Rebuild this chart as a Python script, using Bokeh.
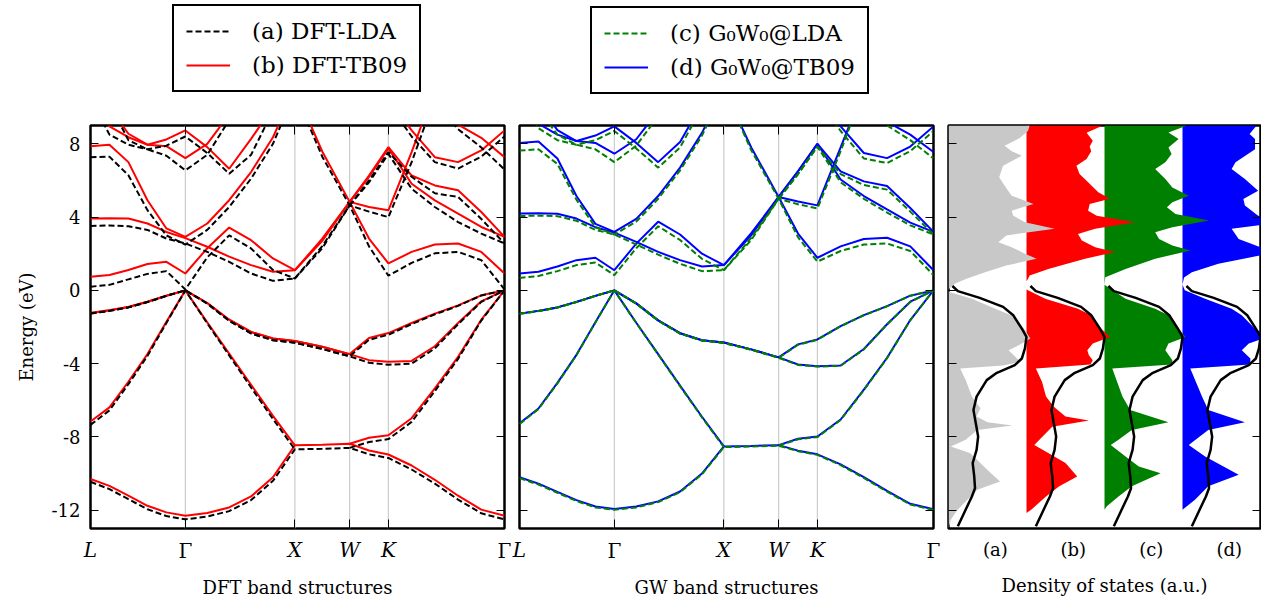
from bokeh.plotting import figure
from bokeh.models import Range1d, FixedTicker, LinearAxis, Span, Legend, LegendItem
from bokeh.layouts import row, column
from bokeh.embed import file_html
from bokeh.resources import INLINE

N = float("nan")

# ---------------- data ----------------
k_path = [0.0, 0.173, 0.346, 0.520, 0.693, 0.866, 1.066, 1.266, 1.466, 1.666, 1.866,
          2.116, 2.366, 2.543, 2.720, 2.932, 3.144, 3.356, 3.568, 3.780]
hs_x = [0.0, 0.866, 1.866, 2.366, 2.720, 3.780]
hs_labels = ["L", "Γ", "X", "W", "K", "Γ"]
energy_ticks = [-12, -8, -4, 0, 4, 8]

dft_lda = [
    [-10.45, -10.85, -11.4, -11.95, -12.32, -12.5, -12.35, -12.05, -11.45, -10.4, -8.68, -8.65, -8.6, -8.95, -9.15, -9.78, -10.55, -11.42, -12.17, -12.5],
    [-7.35, -6.55, -5.12, -3.58, -1.78, 0, -1.8, -3.55, -5.3, -7.02, -8.68, N, -8.6, -8.28, -8.12, -7.18, -5.5, -3.74, -1.65, 0],
    [-1.26, -1.12, -0.93, -0.64, -0.3, 0, -0.72, -1.66, -2.35, -2.72, -2.86, -3.2, -3.6, -3.95, -4.06, -4.0, -3.17, -1.85, -0.63, 0],
    [-1.26, -1.12, -0.93, -0.64, -0.3, 0, -0.72, -1.66, -2.35, -2.72, -2.86, -3.2, -3.6, -2.7, -2.42, -1.84, -1.31, -0.85, -0.28, 0],
    [0.20, 0.30, 0.60, 0.90, 1.05, 0.05, 1.80, 3.00, 2.29, 1.11, 0.65, 2.30, 4.64, 4.30, 4.00, 7.00, 10.5, N, N, N],
    [3.52, 3.54, 3.50, 3.30, 2.83, 2.56, 2.10, 1.56, 0.92, 0.52, 0.65, 2.42, 4.64, 6.00, 7.55, 6.20, 5.30, 5.10, 3.90, 2.56],
    [7.27, 7.30, 6.28, 4.38, 3.00, 2.50, 3.30, 4.55, 6.10, 8.00, 10.8, 7.30, 4.64, 2.40, 0.80, 1.50, 2.02, 2.10, 1.65, 0.05],
    [N, N, N, N, N, N, N, N, N, N, N, N, 4.64, 5.90, 7.45, 5.55, 4.55, 3.73, 3.10, 2.56],
    [10.5, 8.50, 7.95, 7.70, 7.90, 8.40, 7.50, 6.37, 7.40, 9.80, N, N, N, N, N, N, N, N, N, N],
    [N, 10.2, 8.20, 7.70, 7.35, 6.55, 7.40, 9.30, N, N, N, N, N, N, N, N, N, N, N, N],
    [N, N, N, N, N, N, N, N, N, N, N, N, N, N, 10.2, 8.40, 7.00, 6.65, 7.30, 8.40],
    [N, N, N, N, N, N, N, N, N, N, N, N, N, N, N, N, 10.3, 8.80, 7.80, 6.60],
]

dft_tb09 = [
    [-10.30, -10.67, -11.21, -11.76, -12.12, -12.30, -12.15, -11.85, -11.25, -10.20, -8.46, -8.43, -8.37, -8.74, -8.96, -9.56, -10.34, -11.21, -11.97, -12.30],
    [-7.16, -6.39, -4.99, -3.48, -1.72, 0.00, -1.75, -3.45, -5.15, -6.85, -8.46, N, -8.37, -8.05, -7.91, -6.98, -5.35, -3.63, -1.60, 0.00],
    [-1.23, -1.09, -0.91, -0.62, -0.29, 0, -0.69, -1.60, -2.27, -2.63, -2.76, -3.08, -3.48, -3.81, -3.90, -3.85, -3.05, -1.78, -0.60, 0],
    [-1.23, -1.09, -0.91, -0.62, -0.29, 0, -0.69, -1.60, -2.27, -2.63, -2.76, -3.08, -3.48, -2.60, -2.33, -1.78, -1.27, -0.82, -0.27, 0],
    [0.74, 0.84, 1.11, 1.44, 1.56, 0.92, 2.30, 3.43, 2.74, 1.74, 1.10, 2.70, 4.83, 4.55, 4.37, 7.55, 11.0, N, N, N],
    [3.92, 3.94, 3.92, 3.65, 3.19, 2.85, 2.38, 1.84, 1.38, 1.02, 1.10, 2.82, 4.83, 6.27, 7.82, 6.27, 5.73, 5.46, 4.28, 2.92],
    [7.87, 7.95, 7.00, 4.92, 3.38, 2.92, 3.65, 4.92, 6.46, 8.36, 11.0, 7.58, 4.83, 2.83, 1.47, 2.10, 2.50, 2.56, 2.10, 0.92],
    [N, N, N, N, N, N, N, N, N, N, N, N, 4.83, 6.20, 7.75, 5.82, 4.91, 4.19, 3.46, 2.92],
    [10.5, 8.95, 8.36, 7.95, 8.24, 8.73, 7.82, 6.64, 8.27, 10.0, N, N, N, N, N, N, N, N, N, N],
    [N, 10.0, 8.55, 7.95, 7.87, 7.22, 8.00, 9.60, N, N, N, N, N, N, N, N, N, N, N, N],
    [N, N, N, N, N, N, N, N, N, N, N, N, N, N, 10.5, 8.73, 7.27, 7.00, 7.64, 8.73],
    [N, N, N, N, N, N, N, N, N, N, N, N, N, N, N, N, 10.5, 9.05, 8.33, 7.27],
]

gw_lda = [
    [-10.25, -10.6, -11.05, -11.5, -11.85, -11.98, -11.85, -11.56, -11.02, -10.04, -8.56, -8.52, -8.48, -8.78, -8.98, -9.54, -10.24, -10.99, -11.69, -11.99],
    [-7.3, -6.48, -5.08, -3.54, -1.75, 0, -1.78, -3.5, -5.23, -6.93, -8.56, N, -8.48, -8.13, -8.01, -7.08, -5.45, -3.7, -1.63, 0],
    [-1.28, -1.13, -0.94, -0.64, -0.3, 0, -0.72, -1.65, -2.36, -2.74, -2.87, -3.24, -3.68, -4.07, -4.16, -4.12, -3.22, -1.86, -0.63, 0],
    [-1.28, -1.13, -0.94, -0.64, -0.3, 0, -0.72, -1.65, -2.36, -2.74, -2.87, -3.24, -3.68, -2.97, -2.70, -1.96, -1.36, -0.87, -0.29, 0],
    [0.68, 0.78, 1.05, 1.38, 1.52, 0.83, 2.30, 3.50, 2.75, 1.72, 1.10, 2.75, 5.00, 4.70, 4.47, 7.60, 11.0, N, N, N],
    [4.06, 4.08, 4.05, 3.80, 3.30, 3.05, 2.50, 1.95, 1.45, 1.05, 1.10, 2.87, 5.00, 6.35, 7.85, 6.35, 5.75, 5.50, 4.30, 3.05],
    [7.63, 7.70, 6.90, 4.95, 3.45, 3.05, 3.75, 5.00, 6.55, 8.45, 11.0, 7.65, 5.00, 2.90, 1.57, 2.15, 2.50, 2.56, 2.15, 0.83],
    [N, N, N, N, N, N, N, N, N, N, N, N, 5.00, 6.35, 7.85, 5.90, 5.00, 4.25, 3.55, 3.05],
    [10.5, 8.85, 8.20, 7.95, 8.20, 8.70, 7.75, 6.70, 7.80, 10.0, N, N, N, N, N, N, N, N, N, N],
    [N, 9.90, 8.50, 7.95, 7.70, 7.00, 7.90, 9.50, N, N, N, N, N, N, N, N, N, N, N, N],
    [N, N, N, N, N, N, N, N, N, N, N, N, N, N, 10.4, 8.70, 7.20, 6.95, 7.60, 8.70],
    [N, N, N, N, N, N, N, N, N, N, N, N, N, N, N, N, 10.5, 9.00, 8.20, 7.20],
]

gw_tb09 = [
    [-10.2, -10.55, -11.0, -11.45, -11.8, -11.93, -11.8, -11.52, -10.98, -10.0, -8.52, -8.49, -8.45, -8.75, -8.95, -9.5, -10.2, -10.95, -11.65, -11.95],
    [-7.26, -6.45, -5.05, -3.52, -1.74, 0, -1.77, -3.48, -5.2, -6.9, -8.52, N, -8.45, -8.1, -7.98, -7.05, -5.42, -3.68, -1.62, 0],
    [-1.27, -1.12, -0.93, -0.63, -0.3, 0, -0.71, -1.64, -2.34, -2.72, -2.85, -3.22, -3.66, -4.05, -4.14, -4.1, -3.2, -1.85, -0.62, 0],
    [-1.27, -1.12, -0.93, -0.63, -0.3, 0, -0.71, -1.64, -2.34, -2.72, -2.85, -3.22, -3.66, -2.95, -2.68, -1.95, -1.35, -0.86, -0.29, 0],
    [0.92, 1.02, 1.30, 1.65, 1.78, 1.10, 2.55, 3.75, 3.05, 2.00, 1.38, 3.00, 5.10, 4.85, 4.64, 7.80, 11.0, N, N, N],
    [4.19, 4.21, 4.18, 3.92, 3.45, 3.15, 2.65, 2.10, 1.65, 1.30, 1.38, 3.12, 5.10, 6.50, 8.00, 6.50, 5.95, 5.70, 4.50, 3.19],
    [8.05, 8.12, 7.20, 5.15, 3.63, 3.19, 3.90, 5.15, 6.70, 8.60, 11.0, 7.80, 5.10, 3.10, 1.78, 2.40, 2.80, 2.87, 2.40, 1.10],
    [N, N, N, N, N, N, N, N, N, N, N, N, 5.10, 6.50, 8.00, 6.05, 5.15, 4.42, 3.70, 3.19],
    [10.5, 9.10, 8.50, 8.15, 8.45, 8.95, 8.05, 7.00, 8.10, 10.2, N, N, N, N, N, N, N, N, N, N],
    [N, 10.2, 8.75, 8.15, 8.05, 7.46, 8.25, 9.80, N, N, N, N, N, N, N, N, N, N, N, N],
    [N, N, N, N, N, N, N, N, N, N, N, N, N, N, 10.5, 8.95, 7.50, 7.22, 7.85, 8.95],
    [N, N, N, N, N, N, N, N, N, N, N, N, N, N, N, N, 10.6, 9.20, 8.50, 7.55],
]

# density of states (energy, value) for each calculation
dos_a_E = [9.0, 8.71, 8.3, 7.89, 7.6, 7.35, 6.8, 6.17, 5.71, 5.17, 4.72, 4.35, 4.08, 3.72, 3.36, 3.0, 2.63, 2.36, 2.0, 1.72, 1.36, 0.99, 0.64, 0.36, 0.1, 0.0, -0.1, -0.46, -1.0, -1.36, -2.09, -2.63, -3.0, -3.27, -3.6, -3.9, -4.1, -4.26, -4.9, -5.8, -6.43, -6.89, -7.2, -7.38, -7.62, -8.16, -8.53, -8.89, -9.8, -10.43, -10.88, -11.61, -12.06, -12.52, -13.0]
dos_a = [1.04, 1.02, 0.91, 0.72, 0.81, 0.94, 0.70, 0.65, 0.72, 0.81, 1.09, 0.81, 0.83, 0.98, 1.36, 0.74, 0.64, 0.81, 0.98, 1.13, 0.74, 0.47, 0.23, 0.08, 0.01, 0.0, 0.02, 0.3, 0.6, 0.8, 0.97, 1.05, 0.9, 0.77, 0.85, 0.92, 0.7, 0.15, 0.22, 0.3, 0.41, 0.36, 0.5, 0.82, 0.37, 0.22, 0.03, 0.28, 0.5, 0.66, 0.37, 0.2, 0.1, 0.03, 0.0]

dos_b_E = [9.0, 8.6, 8.17, 7.85, 7.6, 7.17, 6.8, 6.35, 5.9, 5.36, 5.0, 4.72, 4.35, 4.08, 3.72, 3.36, 3.08, 2.72, 2.36, 2.09, 1.72, 1.17, 0.81, 0.64, 0.5, 0.05, -0.46, -1.0, -1.36, -2.09, -2.54, -2.9, -3.27, -3.54, -3.81, -4.05, -4.26, -5.0, -5.8, -6.35, -6.89, -7.1, -7.44, -8.0, -8.44, -8.9, -9.43, -10.16, -10.7, -11.25, -11.97, -12.15]
dos_b = [0.98, 0.77, 0.85, 0.81, 0.83, 0.77, 0.64, 0.68, 0.79, 0.92, 1.07, 0.81, 0.79, 0.9, 1.39, 0.88, 0.66, 0.71, 0.88, 1.13, 0.75, 0.28, 0.04, 0.02, 0.0, 0.0, 0.24, 0.66, 0.83, 0.96, 1.07, 0.85, 0.78, 0.8, 0.85, 0.82, 0.12, 0.2, 0.25, 0.35, 0.5, 0.8, 0.33, 0.2, 0.1, 0.29, 0.5, 0.65, 0.42, 0.25, 0.06, 0.0]

dos_c_E = [9.0, 8.62, 8.26, 7.8, 7.44, 6.99, 6.62, 6.08, 5.62, 5.17, 4.81, 4.54, 4.17, 3.81, 3.45, 3.17, 2.81, 2.45, 2.18, 1.72, 1.17, 0.72, 0.3, -0.46, -1.0, -1.36, -2.09, -2.54, -2.9, -3.27, -3.81, -4.05, -4.26, -5.8, -6.53, -7.2, -7.62, -8.16, -8.44, -9.07, -9.61, -9.98, -10.7, -11.25, -11.79, -11.97]
dos_c = [1.06, 0.82, 0.95, 0.82, 0.86, 0.78, 0.65, 0.78, 0.87, 1.08, 0.87, 0.8, 0.91, 1.34, 0.87, 0.65, 0.7, 0.87, 1.1, 0.65, 0.27, 0.01, 0.0, 0.27, 0.65, 0.82, 0.95, 1.04, 0.82, 0.78, 0.87, 0.87, 0.1, 0.23, 0.33, 0.82, 0.35, 0.18, 0.08, 0.27, 0.44, 0.72, 0.35, 0.18, 0.03, 0.0]

dos_d_E = [9.0, 8.53, 8.26, 7.7, 7.0, 6.62, 6.08, 5.44, 4.99, 4.63, 4.08, 3.72, 3.36, 2.81, 2.36, 2.0, 1.45, 0.99, 0.7, 0.3, 0.0, -0.46, -1.0, -1.36, -2.09, -2.54, -2.9, -3.27, -3.72, -4.05, -4.26, -5.8, -6.53, -7.2, -7.62, -8.44, -9.07, -10.07, -10.7, -11.43, -11.97]
dos_d = [0.95, 0.86, 0.93, 0.93, 0.68, 0.63, 0.8, 0.97, 0.78, 0.8, 0.97, 1.3, 0.63, 0.72, 1.0, 1.1, 0.46, 0.12, 0.02, 0.0, 0.03, 0.29, 0.63, 0.76, 0.93, 1.1, 0.85, 0.76, 0.87, 0.87, 0.1, 0.25, 0.33, 0.8, 0.33, 0.08, 0.29, 0.72, 0.33, 0.16, 0.0]

exp_E = [0.24, -0.04, -0.41, -0.9, -1.36, -2.09, -2.54, -3.17, -3.72, -4.08, -4.5, -4.9, -5.8, -6.53, -7.25, -7.98, -8.71, -9.43, -10.16, -10.8, -11.25, -12.15, -12.88]
exp_dos = [0.05, 0.12, 0.40, 0.70, 0.83, 0.94, 1.0, 0.98, 0.94, 0.85, 0.62, 0.49, 0.36, 0.32, 0.35, 0.38, 0.36, 0.31, 0.33, 0.34, 0.30, 0.20, 0.12]

dos_labels = ["(a)", "(b)", "(c)", "(d)"]
dos_colors = ["#c8c8c8", "#ff0000", "#008000", "#0000ff"]
legend_dft = ["(a) DFT-LDA", "(b) DFT-TB09"]
legend_gw = ["(c) G\u2080W\u2080@LDA", "(d) G\u2080W\u2080@TB09"]

# ---------------- styling helpers ----------------
FONT = "DejaVu Serif"
FS = "18px"
FRAME_H = 403
TOP = 3
BOTTOM = 71
LEG_H = 122
DASH = "6 3"


def tick_axis(ticks, tick_len, labels=None, **kw):
    ax = LinearAxis(ticker=FixedTicker(ticks=ticks), major_tick_in=tick_len, major_tick_out=0,
                    minor_tick_in=0, minor_tick_out=0, axis_line_color=None,
                    major_tick_line_color="black", major_tick_line_width=1,
                    major_label_text_font=FONT, major_label_text_font_size=FS,
                    major_label_text_color="black",
                    axis_label_text_font=FONT, axis_label_text_font_size=FS,
                    axis_label_text_font_style="normal", axis_label_text_color="black", **kw)
    if labels is None:
        ax.major_label_overrides = {t: "" for t in ticks}
        ax.major_label_standoff = 0
    else:
        ax.major_label_overrides = labels
    return ax


def base_fig(fw, bl, br, xr):
    p = figure(frame_width=fw, frame_height=FRAME_H, x_range=xr, y_range=Range1d(-13, 9),
               output_backend="svg", toolbar_location=None,
               x_axis_location=None, y_axis_location=None,
               min_border_left=bl, min_border_right=br, min_border_top=TOP,
               min_border_bottom=BOTTOM)
    p.grid.visible = False
    p.outline_line_color = "black"
    p.outline_line_width = 2.5
    p.outline_line_alpha = 1.0
    p.background_fill_color = "white"
    p.border_fill_color = "white"
    return p


def band_fig(bl, br, ylabels, title, lda, tb, c_lda, c_tb):
    p = base_fig(414, bl, br, Range1d(0, 3.78))
    for x in hs_x[1:-1]:
        p.add_layout(Span(location=x, dimension="height", line_color="#cccccc",
                          line_width=1.2, level="underlay"))
    for b in tb:
        p.line(k_path, b, line_color=c_tb, line_width=2.0)
    for b in lda:
        p.line(k_path, b, line_color=c_lda, line_width=2.0, line_dash=DASH)
    if ylabels:
        yl = tick_axis(energy_ticks, 8, labels={t: str(t) for t in energy_ticks},
                       major_label_standoff=10, axis_label="Energy (eV)", axis_label_standoff=12)
    else:
        yl = tick_axis(energy_ticks, 8)
    p.add_layout(yl, "left")
    p.add_layout(tick_axis(energy_ticks, 8), "right")
    p.add_layout(tick_axis(hs_x, 9), "above")
    ital = {x: (lab if lab != "Γ" else "") for x, lab in zip(hs_x, hs_labels)}
    xa = tick_axis(hs_x, 9, labels=ital, major_label_standoff=9)
    xa.major_label_text_font_style = "italic"
    xa.major_label_text_font_size = "20px"
    p.add_layout(xa, "below")
    gam = [x for x, lab in zip(hs_x, hs_labels) if lab == "Γ"]
    xb = tick_axis(gam, 0, labels={x: "Γ" for x in gam}, major_label_standoff=-26,
                   axis_label=title, axis_label_standoff=11)
    xb.major_label_text_font_size = "20px"
    p.add_layout(xb, "below")
    return p


def legend_fig(width, labels, c1, c2, loc):
    f = figure(width=width, height=LEG_H, x_range=Range1d(0, 1), y_range=Range1d(0, 1),
               output_backend="svg", toolbar_location=None,
               x_axis_location=None, y_axis_location=None, min_border=0)
    f.grid.visible = False
    f.outline_line_color = None
    f.border_fill_color = "white"
    # sample lines lie outside the visible range; they only supply the legend glyphs
    r1 = f.line([2, 3], [2, 2], line_color=c1, line_width=2.0, line_dash=DASH)
    r2 = f.line([2, 3], [2, 2], line_color=c2, line_width=2.0)
    leg = Legend(items=[LegendItem(label=labels[0], renderers=[r1]),
                        LegendItem(label=labels[1], renderers=[r2])],
                 location=loc, border_line_color="black", border_line_width=2,
                 border_line_alpha=1, background_fill_color="white", background_fill_alpha=1,
                 label_text_font=FONT, label_text_font_size="23px", label_text_color="black",
                 glyph_width=44, glyph_height=26, label_standoff=22, label_height=26,
                 spacing=8, padding=12, margin=0)
    f.add_layout(leg)
    return f


p1 = band_fig(90, 7, True, "DFT band structures", dft_lda, dft_tb09, "black", "red")
p2 = band_fig(8, 7, False, "GW band structures", gw_lda, gw_tb09, "green", "blue")

# DOS panel
p3 = base_fig(312, 8, 1, Range1d(0, 4))
dos_sets = [(dos_a_E, dos_a), (dos_b_E, dos_b), (dos_c_E, dos_c), (dos_d_E, dos_d)]
for i in [3, 2, 1, 0]:
    E, d = dos_sets[i]
    p3.harea(x1=[i] * len(E), x2=[i + v for v in d], y=E, fill_color=dos_colors[i], fill_alpha=1.0)
for i in range(4):
    p3.line([i + v for v in exp_dos], exp_E, line_color="black", line_width=2.5)
p3.add_layout(tick_axis(energy_ticks, 8), "left")
p3.add_layout(tick_axis(energy_ticks, 8), "right")
dpos = [0.6, 1.6, 2.6, 3.6]
xd = tick_axis(dpos, 0, labels={x: l for x, l in zip(dpos, dos_labels)}, major_label_standoff=10,
               axis_label="Density of states (a.u.)", axis_label_standoff=12)
p3.add_layout(xd, "below")

l1 = legend_fig(511, legend_dft, "black", "red", (172, 30))
l2 = legend_fig(429, legend_gw, "green", "blue", (79, 28))

layout = column(row(l1, l2, spacing=0), row(p1, p2, p3, spacing=0), spacing=0)
open("out.html", "w").write(file_html(layout, INLINE))
